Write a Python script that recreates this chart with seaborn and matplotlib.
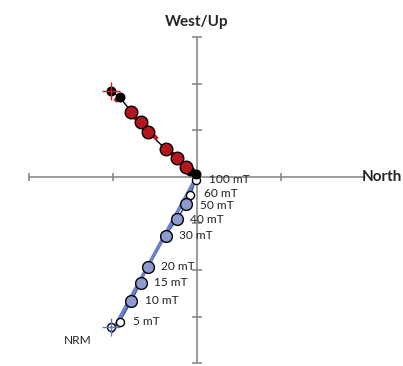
import matplotlib
matplotlib.use("Agg")
import matplotlib.pyplot as plt
import seaborn as sns
import pandas as pd

# Demagnetisation steps (AF, mT); "NRM" is the natural remanence
steps = ["NRM", "5 mT", "10 mT", "15 mT", "20 mT", "30 mT", "40 mT", "50 mT", "60 mT", "100 mT"]
north = [-1.024, -0.917, -0.777, -0.667, -0.583, -0.369, -0.235, -0.123, -0.075, -0.012]
east = [-3.225, -3.112, -2.667, -2.275, -1.931, -1.266, -0.908, -0.592, -0.393, -0.071]
up = [1.845, 1.704, 1.395, 1.167, 0.966, 0.588, 0.395, 0.215, 0.133, 0.058]
used_in_fit = [False, False, True, True, True, True, True, True, False, False]

# Principal component fit lines (origin-anchored)
fit_h_north = [0.0, -1.014]
fit_h_east = [0.0, -3.35]
fit_v_north = [0.0, -0.976]
fit_v_up = [0.0, 1.68]

x_ticks = [-2, -1, 1]
y_ticks = [3, 2, 1, -1, -2, -3, -4]

df = pd.DataFrame({"step": steps, "north": north, "east": east, "up": up, "fit": used_in_fit})
fit_h = pd.DataFrame({"north": fit_h_north, "east": fit_h_east})
fit_v = pd.DataFrame({"north": fit_v_north, "up": fit_v_up})

sns.set_style("white")
plt.rcParams["font.family"] = ["Lato", "DejaVu Sans"]

fig = plt.figure(figsize=(4.03, 3.66), dpi=100)
ax = fig.add_axes([28.7 / 403, 2.9 / 366, 336 / 403, 326.2 / 366])
ax.set_xlim(-2, 2)
ax.set_ylim(-4, 3)
ax.axis("off")

axis_col = "#8a8a8a"
ax.plot([-2, 2], [0, 0], color=axis_col, lw=1.2, zorder=1, clip_on=False)
ax.plot([0, 0], [-4, 3], color=axis_col, lw=1.2, zorder=1, clip_on=False)
ax.plot(x_ticks, [0] * len(x_ticks), ls="none", marker="|", ms=6, mew=1.2,
        color=axis_col, zorder=1, clip_on=False)
ax.plot([0] * len(y_ticks), y_ticks, ls="none", marker="_", ms=6.5, mew=1.2,
        color=axis_col, zorder=1, clip_on=False)

# Connecting lines through the demagnetisation path
sns.lineplot(data=df, x="north", y="east", sort=False, estimator=None, ax=ax,
             color="#26357f", lw=1.0, zorder=2)
sns.lineplot(data=df, x="north", y="up", sort=False, estimator=None, ax=ax,
             color="black", lw=1.0, zorder=2)

# Fit lines
sns.lineplot(data=fit_h, x="north", y="east", sort=False, estimator=None, ax=ax,
             color="#6b80c8", lw=2.6, zorder=3)
ax.lines[-1].set_solid_capstyle("butt")
sns.lineplot(data=fit_v, x="north", y="up", sort=False, estimator=None, ax=ax,
             color="#c0151f", lw=2.8, zorder=3)
ax.lines[-1].set_dashes([4, 3])

fit_pts = df[df["fit"]]
off_pts = df[~df["fit"] & (df["step"] != "NRM")]
nrm = df[df["step"] == "NRM"]

# Horizontal projection (North vs East/Down)
sns.scatterplot(data=off_pts, x="north", y="east", ax=ax, s=34, color="white",
                edgecolor="black", linewidth=1.0, zorder=4)
sns.scatterplot(data=nrm, x="north", y="east", ax=ax, s=34, color="white",
                edgecolor="black", linewidth=1.0, zorder=4)
sns.scatterplot(data=fit_pts, x="north", y="east", ax=ax, s=72, color="#8e9bd1",
                edgecolor="black", linewidth=1.0, zorder=5)
sns.scatterplot(data=nrm, x="north", y="east", ax=ax, s=170, marker="+",
                color="#5f74c4", linewidth=1.0, zorder=6)

# Vertical projection (North vs West/Up)
sns.scatterplot(data=off_pts, x="north", y="up", ax=ax, s=38, color="black",
                edgecolor="black", linewidth=1.0, zorder=4)
sns.scatterplot(data=nrm, x="north", y="up", ax=ax, s=38, color="black",
                edgecolor="black", linewidth=1.0, zorder=4)
sns.scatterplot(data=fit_pts, x="north", y="up", ax=ax, s=82, color="#b3161e",
                edgecolor="black", linewidth=1.0, zorder=5)
sns.scatterplot(data=nrm, x="north", y="up", ax=ax, s=170, marker="+",
                color="#c8202a", linewidth=1.0, zorder=6)

if ax.get_legend() is not None:
    ax.get_legend().remove()

# Step labels (small vertical nudges keep the crowded ones apart)
nudge = {"100 mT": 0.4, "60 mT": 1.4, "50 mT": -0.8}
for _, r in df.iterrows():
    if r["step"] == "NRM":
        ax.annotate(r["step"], (r["north"], r["east"]), xytext=(-14, -9.5),
                    textcoords="offset points", ha="right", va="center",
                    fontsize=8.6, color="#222222")
    else:
        ax.annotate(r["step"], (r["north"], r["east"]),
                    xytext=(9.5, nudge.get(r["step"], 0)),
                    textcoords="offset points", ha="left", va="center",
                    fontsize=8.6, color="#222222", zorder=7)

ax.annotate("West/Up", (0, 3), xytext=(0, 11), textcoords="offset points",
            ha="center", va="center", fontsize=11, fontweight="bold",
            annotation_clip=False)
ax.annotate("North", (2, 0), xytext=(-2, 0), textcoords="offset points",
            ha="left", va="center", fontsize=11, fontweight="bold",
            annotation_clip=False)

ax.set_xlabel("")
ax.set_ylabel("")
fig.savefig("out.png", dpi=100)
